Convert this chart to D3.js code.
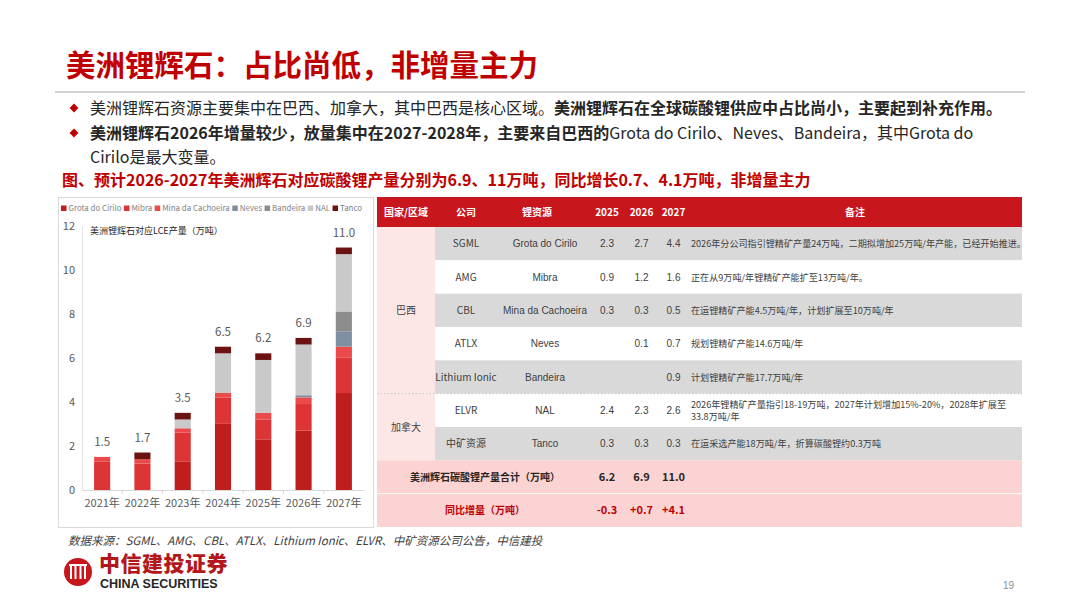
<!DOCTYPE html>
<html>
<head>
<meta charset="utf-8">
<script src="https://cdn.jsdelivr.net/npm/d3@7"></script>
<style>
  body { margin: 0; background: #fff; }
  svg { display: block; }
  text { font-family: "Noto Sans CJK SC", "Noto Sans", sans-serif; }
  .latin { font-family: "Liberation Sans", Arial, sans-serif; }
</style>
</head>
<body>
<svg width="1080" height="608"></svg>
<script>
// Chart data (万吨 LCE)
const years = ["2021年", "2022年", "2023年", "2024年", "2025年", "2026年", "2027年"];
const seriesNames = ["Grota do Cirilo", "Mibra", "Mina da Cachoeira", "Neves", "Bandeira", "NAL", "Tanco"];
const grota = [0, 0, 1.3, 3.0, 2.3, 2.7, 4.4];
const mibra = [1.3, 1.2, 1.3, 1.2, 0.9, 1.2, 1.6];
const mina = [0.2, 0.2, 0.2, 0.2, 0.3, 0.3, 0.5];
const neves = [0, 0, 0, 0, 0, 0.1, 0.7];
const bandeira = [0, 0, 0, 0, 0, 0, 0.9];
const nal = [0, 0, 0.4, 1.8, 2.4, 2.3, 2.6];
const tanco = [0, 0.3, 0.3, 0.3, 0.3, 0.3, 0.3];
const totals = [1.5, 1.7, 3.5, 6.5, 6.2, 6.9, 11.0];
const yTicks = [0, 2, 4, 6, 8, 10, 12];

// Table data
const countries = ["巴西", "巴西", "巴西", "巴西", "巴西", "加拿大", "加拿大"];
const companies = ["SGML", "AMG", "CBL", "ATLX", "Lithium Ionic", "ELVR", "中矿资源"];
const resources = ["Grota do Cirilo", "Mibra", "Mina da Cachoeira", "Neves", "Bandeira", "NAL", "Tanco"];
const t2025 = ["2.3", "0.9", "0.3", "", "", "2.4", "0.3"];
const t2026 = ["2.7", "1.2", "0.3", "0.1", "", "2.3", "0.3"];
const t2027 = ["4.4", "1.6", "0.5", "0.7", "0.9", "2.6", "0.3"];
const notes = [
  ["2026年分公司指引锂精矿产量24万吨，二期拟增加25万吨/年产能，已经开始推进。"],
  ["正在从9万吨/年锂精矿产能扩至13万吨/年。"],
  ["在运锂精矿产能4.5万吨/年，计划扩展至10万吨/年"],
  ["规划锂精矿产能14.6万吨/年"],
  ["计划锂精矿产能17.7万吨/年"],
  ["2026年锂精矿产量指引18-19万吨，2027年计划增加15%-20%，2028年扩展至", "33.8万吨/年"],
  ["在运采选产能18万吨/年，折算碳酸锂约0.3万吨"]
];
const headers = ["国家/区域", "公司", "锂资源", "2025", "2026", "2027", "备注"];
const sumValues = ["6.2", "6.9", "11.0"];
const yoyValues = ["-0.3", "+0.7", "+4.1"];

const RED = "#c8161d";
const colors = ["#bf1f1c", "#dd3535", "#ea4a4a", "#7f8fa1", "#8c8c8c", "#c9c9c9", "#6b1212"];

const svg = d3.select("svg");

// Title
svg.append("text")
  .attr("x", 66).attr("y", 76)
  .attr("fill", "#c00000")
  .attr("font-size", 29.5).attr("font-weight", 700)
  .text("美洲锂辉石：占比尚低，非增量主力");

svg.append("line")
  .attr("x1", 55).attr("x2", 1025).attr("y1", 92).attr("y2", 92)
  .attr("stroke", "#a6a6a6").attr("stroke-width", 1);

// Bullets
const bulletLines = [
  { y: 114, diamond: true, parts: [
    { t: "美洲锂辉石资源主要集中在巴西、加拿大，其中巴西是核心区域。", b: false },
    { t: "美洲锂辉石在全球碳酸锂供应中占比尚小，主要起到补充作用。", b: true }] },
  { y: 139, diamond: true, parts: [
    { t: "美洲锂辉石2026年增量较少，放量集中在2027-2028年，主要来自巴西的", b: true },
    { t: "Grota do Cirilo、Neves、Bandeira，其中Grota do", b: false }] },
  { y: 163, diamond: false, parts: [{ t: "Cirilo是最大变量。", b: false }] }
];
bulletLines.forEach(l => {
  if (l.diamond) {
    svg.append("path")
      .attr("d", d3.symbol(d3.symbolDiamond2, 50)())
      .attr("transform", `translate(74,${l.y - 6})`)
      .attr("fill", "#c00000");
  }
  const t = svg.append("text").attr("x", 90).attr("y", l.y)
    .attr("font-size", 16).attr("fill", "#262626");
  l.parts.forEach(p => t.append("tspan").attr("font-weight", p.b ? 700 : 400).text(p.t));
});

svg.append("text")
  .attr("x", 62).attr("y", 186)
  .attr("fill", "#c00000").attr("font-size", 16).attr("font-weight", 700)
  .text("图、预计2026-2027年美洲辉石对应碳酸锂产量分别为6.9、11万吨，同比增长0.7、4.1万吨，非增量主力");

// ---------- Chart panel ----------
svg.append("rect")
  .attr("x", 58.5).attr("y", 197.5).attr("width", 315).attr("height", 330)
  .attr("fill", "#fff").attr("stroke", "#d9d9d9");

// legend
const legend = svg.append("g").attr("class", "legend");
let lx = 61;
seriesNames.forEach((name, i) => {
  legend.append("rect").attr("x", lx).attr("y", 205.5).attr("width", 5.5).attr("height", 5.5).attr("fill", colors[i]);
  const txt = legend.append("text").attr("x", lx + 7.5).attr("y", 211)
    .attr("font-size", 7.9).attr("fill", "#7f7f7f").text(name);
  lx += 7.5 + txt.node().getComputedTextLength() + 2.5;
});

const table = years.map((y, i) => ({
  year: y,
  "Grota do Cirilo": grota[i], "Mibra": mibra[i], "Mina da Cachoeira": mina[i],
  "Neves": neves[i], "Bandeira": bandeira[i], "NAL": nal[i], "Tanco": tanco[i],
  total: totals[i]
}));
const stacked = d3.stack().keys(seriesNames)(table);

const x = d3.scaleBand().domain(years).range([82, 364]).paddingInner(0.6).paddingOuter(0.3);
const y = d3.scaleLinear().domain([0, 12]).range([490, 225.5]);

const chart = svg.append("g");

// y axis
const yAxis = chart.append("g").attr("transform", "translate(82,0)")
  .call(d3.axisLeft(y).tickValues(yTicks).tickSize(0).tickPadding(7));
yAxis.select(".domain").attr("stroke", "#e3e3e3");
yAxis.selectAll("text").attr("font-size", 11).attr("fill", "#595959")
  .attr("font-family", "'Noto Sans', sans-serif");

// x axis
const xAxis = chart.append("g").attr("transform", "translate(0,490)")
  .call(d3.axisBottom(x).tickSize(0).tickPadding(9));
xAxis.select(".domain").attr("stroke", "#d9d9d9");
xAxis.selectAll("text").attr("font-size", 11).attr("fill", "#595959");
chart.selectAll(".xsep").data(years.slice(1)).enter().append("line")
  .attr("x1", d => x(d) - x.step() * x.paddingInner() / 2)
  .attr("x2", d => x(d) - x.step() * x.paddingInner() / 2)
  .attr("y1", 490).attr("y2", 494).attr("stroke", "#d9d9d9");

// bars
chart.selectAll(".layer").data(stacked).enter().append("g")
  .attr("fill", (d, i) => colors[i])
  .selectAll("rect").data(d => d).enter().append("rect")
  .attr("x", d => x(d.data.year))
  .attr("width", x.bandwidth())
  .attr("y", d => y(d[1]))
  .attr("height", d => y(d[0]) - y(d[1]));

// totals
chart.selectAll(".tot").data(table).enter().append("text")
  .attr("x", d => x(d.year) + x.bandwidth() / 2)
  .attr("y", d => y(d.total) - 11)
  .attr("text-anchor", "middle")
  .attr("font-size", 11.5).attr("fill", "#595959")
  .attr("font-family", "'Noto Sans', sans-serif")
  .text(d => d.total.toFixed(1));

chart.append("text").attr("x", 90).attr("y", 234)
  .attr("font-size", 9).attr("fill", "#262626")
  .text("美洲锂辉石对应LCE产量（万吨）");

// ---------- Table ----------
const colEdges = [377, 435, 497, 590, 624, 659, 688, 1022];
const colCenter = i => (colEdges[i] + colEdges[i + 1]) / 2;
const rowY = d3.scaleBand().domain(d3.range(9)).range([227, 527]);
const tbl = svg.append("g");

tbl.append("rect").attr("x", 377).attr("y", 197).attr("width", 645).attr("height", 30).attr("fill", RED);
tbl.selectAll(".hd").data(headers).enter().append("text")
  .attr("x", (d, i) => i === 2 ? 537 : colCenter(i))
  .attr("y", 216).attr("text-anchor", "middle")
  .attr("font-size", 10).attr("font-weight", 700).attr("fill", "#fff")
  .attr("font-family", (d, i) => i >= 3 && i <= 5 ? "'Liberation Sans', Arial, sans-serif" : null)
  .text(d => d);

const rows = companies.map((c, i) => ({
  i, country: countries[i], company: c, resource: resources[i],
  v: [t2025[i], t2026[i], t2027[i]], note: notes[i]
}));

// row backgrounds
tbl.selectAll(".rowbg").data(rows).enter().append("rect")
  .attr("x", 435).attr("width", 1022 - 435)
  .attr("y", d => rowY(d.i)).attr("height", rowY.bandwidth())
  .attr("fill", d => d.i % 2 === 0 ? "#d9d9d9" : "#fff");

// country cells
const groups = d3.groups(rows, d => d.country);
groups.forEach(([name, rs]) => {
  const top = rowY(rs[0].i), bottom = rowY(rs[rs.length - 1].i) + rowY.bandwidth();
  tbl.append("rect").attr("x", 377).attr("width", 58).attr("y", top).attr("height", bottom - top)
    .attr("fill", "#fde6e6");
  tbl.append("text").attr("x", colCenter(0)).attr("y", (top + bottom) / 2 + 3.5)
    .attr("text-anchor", "middle").attr("font-size", 10).attr("fill", "#404040").text(name);
});
tbl.append("line").attr("x1", 377).attr("x2", 1022)
  .attr("y1", rowY(5)).attr("y2", rowY(5))
  .attr("stroke", "#bfbfbf").attr("stroke-dasharray", "1.5,2");

const cellY = d => rowY(d.i) + rowY.bandwidth() / 2 + 3.5;
tbl.selectAll(".co").data(rows).enter().append("text")
  .attr("x", colCenter(1)).attr("y", cellY).attr("text-anchor", "middle")
  .attr("font-size", 10).attr("fill", "#404040")
  .attr("font-family", d => /[\u4e00-\u9fa5]/.test(d.company) ? null : "'Liberation Sans', Arial, sans-serif")
  .text(d => d.company);
tbl.selectAll(".rs").data(rows).enter().append("text")
  .attr("x", 545).attr("y", cellY).attr("text-anchor", "middle")
  .attr("font-size", 10).attr("fill", "#404040").attr("class", "latin")
  .text(d => d.resource);
[0, 1, 2].forEach(k => {
  tbl.selectAll(".v" + k).data(rows).enter().append("text")
    .attr("x", colCenter(3 + k)).attr("y", cellY).attr("text-anchor", "middle")
    .attr("font-size", 10).attr("fill", "#404040").attr("class", "latin")
    .text(d => d.v[k]);
});
tbl.selectAll(".nt").data(rows).enter().append("text")
  .attr("x", 691).attr("font-size", 9.1).attr("fill", "#404040")
  .attr("y", d => cellY(d) - (d.note.length - 1) * 6)
  .each(function(d) {
    d3.select(this).selectAll("tspan").data(d.note).enter().append("tspan")
      .attr("x", 691).attr("dy", (t, j) => j === 0 ? 0 : 12).text(t => t);
  });

// summary rows
const sumRows = [
  { i: 7, label: "美洲辉石碳酸锂产量合计（万吨）", vals: sumValues, color: "#262626" },
  { i: 8, label: "同比增量（万吨）", vals: yoyValues, color: "#c00000" }
];
sumRows.forEach(r => {
  tbl.append("rect").attr("x", 377).attr("width", 645).attr("y", rowY(r.i)).attr("height", rowY.bandwidth())
    .attr("fill", "#fbd3d3");
  const cy = rowY(r.i) + rowY.bandwidth() / 2 + 3.5;
  tbl.append("text").attr("x", 485).attr("y", cy).attr("text-anchor", "middle")
    .attr("font-size", 10).attr("font-weight", 700).attr("fill", r.color).text(r.label);
  r.vals.forEach((v, k) => {
    tbl.append("text").attr("x", colCenter(3 + k)).attr("y", cy).attr("text-anchor", "middle")
      .attr("font-size", 11).attr("font-weight", 700).attr("fill", r.color)
      .attr("font-family", "'Noto Sans', sans-serif").text(v);
  });
});
tbl.append("line").attr("x1", 377).attr("x2", 1022).attr("y1", rowY(8)).attr("y2", rowY(8))
  .attr("stroke", "#fff").attr("stroke-width", 0.8);

// ---------- Footer ----------
svg.append("text").attr("x", 68).attr("y", 545)
  .attr("font-size", 11.5).attr("font-style", "italic").attr("fill", "#404040")
  .text("数据来源：SGML、AMG、CBL、ATLX、Lithium Ionic、ELVR、中矿资源公司公告，中信建投");

const logo = svg.append("g").attr("transform", "translate(78,572)");
logo.append("circle").attr("r", 14).attr("fill", RED);
[-7, -2.5, 2.5, 7].forEach(dx => {
  logo.append("rect").attr("x", dx - 1).attr("y", -6).attr("width", 2).attr("height", 13).attr("fill", "#fff");
});
logo.append("rect").attr("x", -9).attr("y", -8).attr("width", 18).attr("height", 2).attr("fill", "#fff");
svg.append("text").attr("x", 99).attr("y", 571)
  .attr("font-size", 21).attr("font-weight", 900).attr("fill", "#b3171c")
  .attr("letter-spacing", 0.5)
  .text("中信建投证券");
svg.append("text").attr("x", 100).attr("y", 588)
  .attr("font-size", 12.5).attr("font-weight", 700).attr("fill", "#262626")
  .attr("class", "latin")
  .text("CHINA SECURITIES");
svg.append("text").attr("x", 1003).attr("y", 589)
  .attr("font-size", 10).attr("fill", "#8c8c8c").attr("class", "latin").text("19");
</script>
</body>
</html>
